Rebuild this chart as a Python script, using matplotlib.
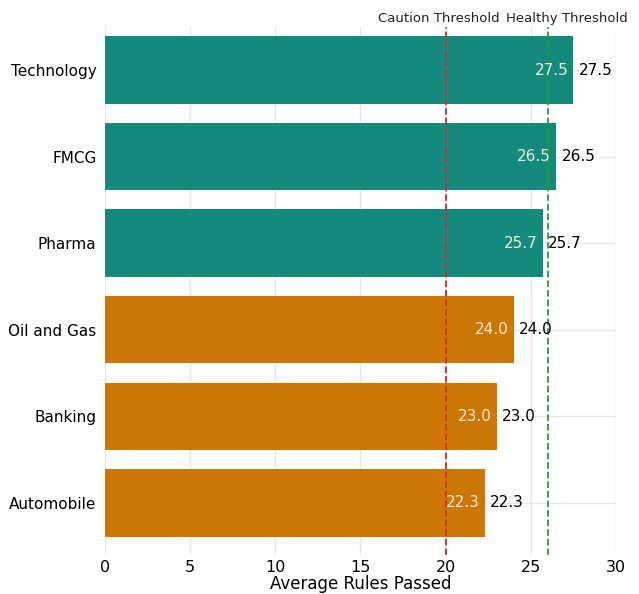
import matplotlib
matplotlib.use("Agg")
import matplotlib.pyplot as plt

sectors = ["Technology", "FMCG", "Pharma", "Oil and Gas", "Banking", "Automobile"]
values = [27.5, 26.5, 25.7, 24.0, 23.0, 22.3]
groups = ["healthy", "healthy", "healthy", "caution", "caution", "caution"]
caution_threshold = 20
healthy_threshold = 26
xticks = [0, 5, 10, 15, 20, 25, 30]

colors = {"healthy": "#138a7c", "caution": "#cc7605"}

fig = plt.figure(figsize=(6.39, 5.94), dpi=100)
ax = fig.add_axes([0.164, 0.066, 0.8, 0.889])

y = list(range(len(sectors)))
bars = ax.barh(y, values, height=0.78, color=[colors[g] for g in groups], zorder=2)

ax.set_ylim(5.6, -0.5)
ax.set_xlim(0, 30)
ax.set_xticks(xticks)
ax.set_yticks(y)
ax.set_yticklabels(sectors, fontsize=11)
ax.tick_params(axis="x", labelsize=11.5, length=0, pad=4)
ax.tick_params(axis="y", length=0, pad=6)
ax.grid(True, color="#e6e6e6", linewidth=1, zorder=0)
ax.set_axisbelow(True)
for s in ax.spines.values():
    s.set_visible(False)

for yi, v in zip(y, values):
    ax.text(v - 0.3, yi, f"{v:.1f}", ha="right", va="center", color="#f3ead8", fontsize=11, zorder=4)
    ax.text(v + 0.3, yi, f"{v:.1f}", ha="left", va="center", color="black", fontsize=11, zorder=4)

ax.axvline(caution_threshold, color="#d62728", linestyle="--", linewidth=1.3, zorder=3)
ax.axvline(healthy_threshold, color="#2a9d2a", linestyle="--", linewidth=1.3, zorder=3)
ax.text(19.6, -0.52, "Caution Threshold", ha="center", va="bottom", fontsize=9.5, color="#222222")
ax.text(27.1, -0.52, "Healthy Threshold", ha="center", va="bottom", fontsize=9.5, color="#222222")

ax.set_xlabel("Average Rules Passed", fontsize=12, labelpad=0)

fig.savefig("out.png", dpi=100)
